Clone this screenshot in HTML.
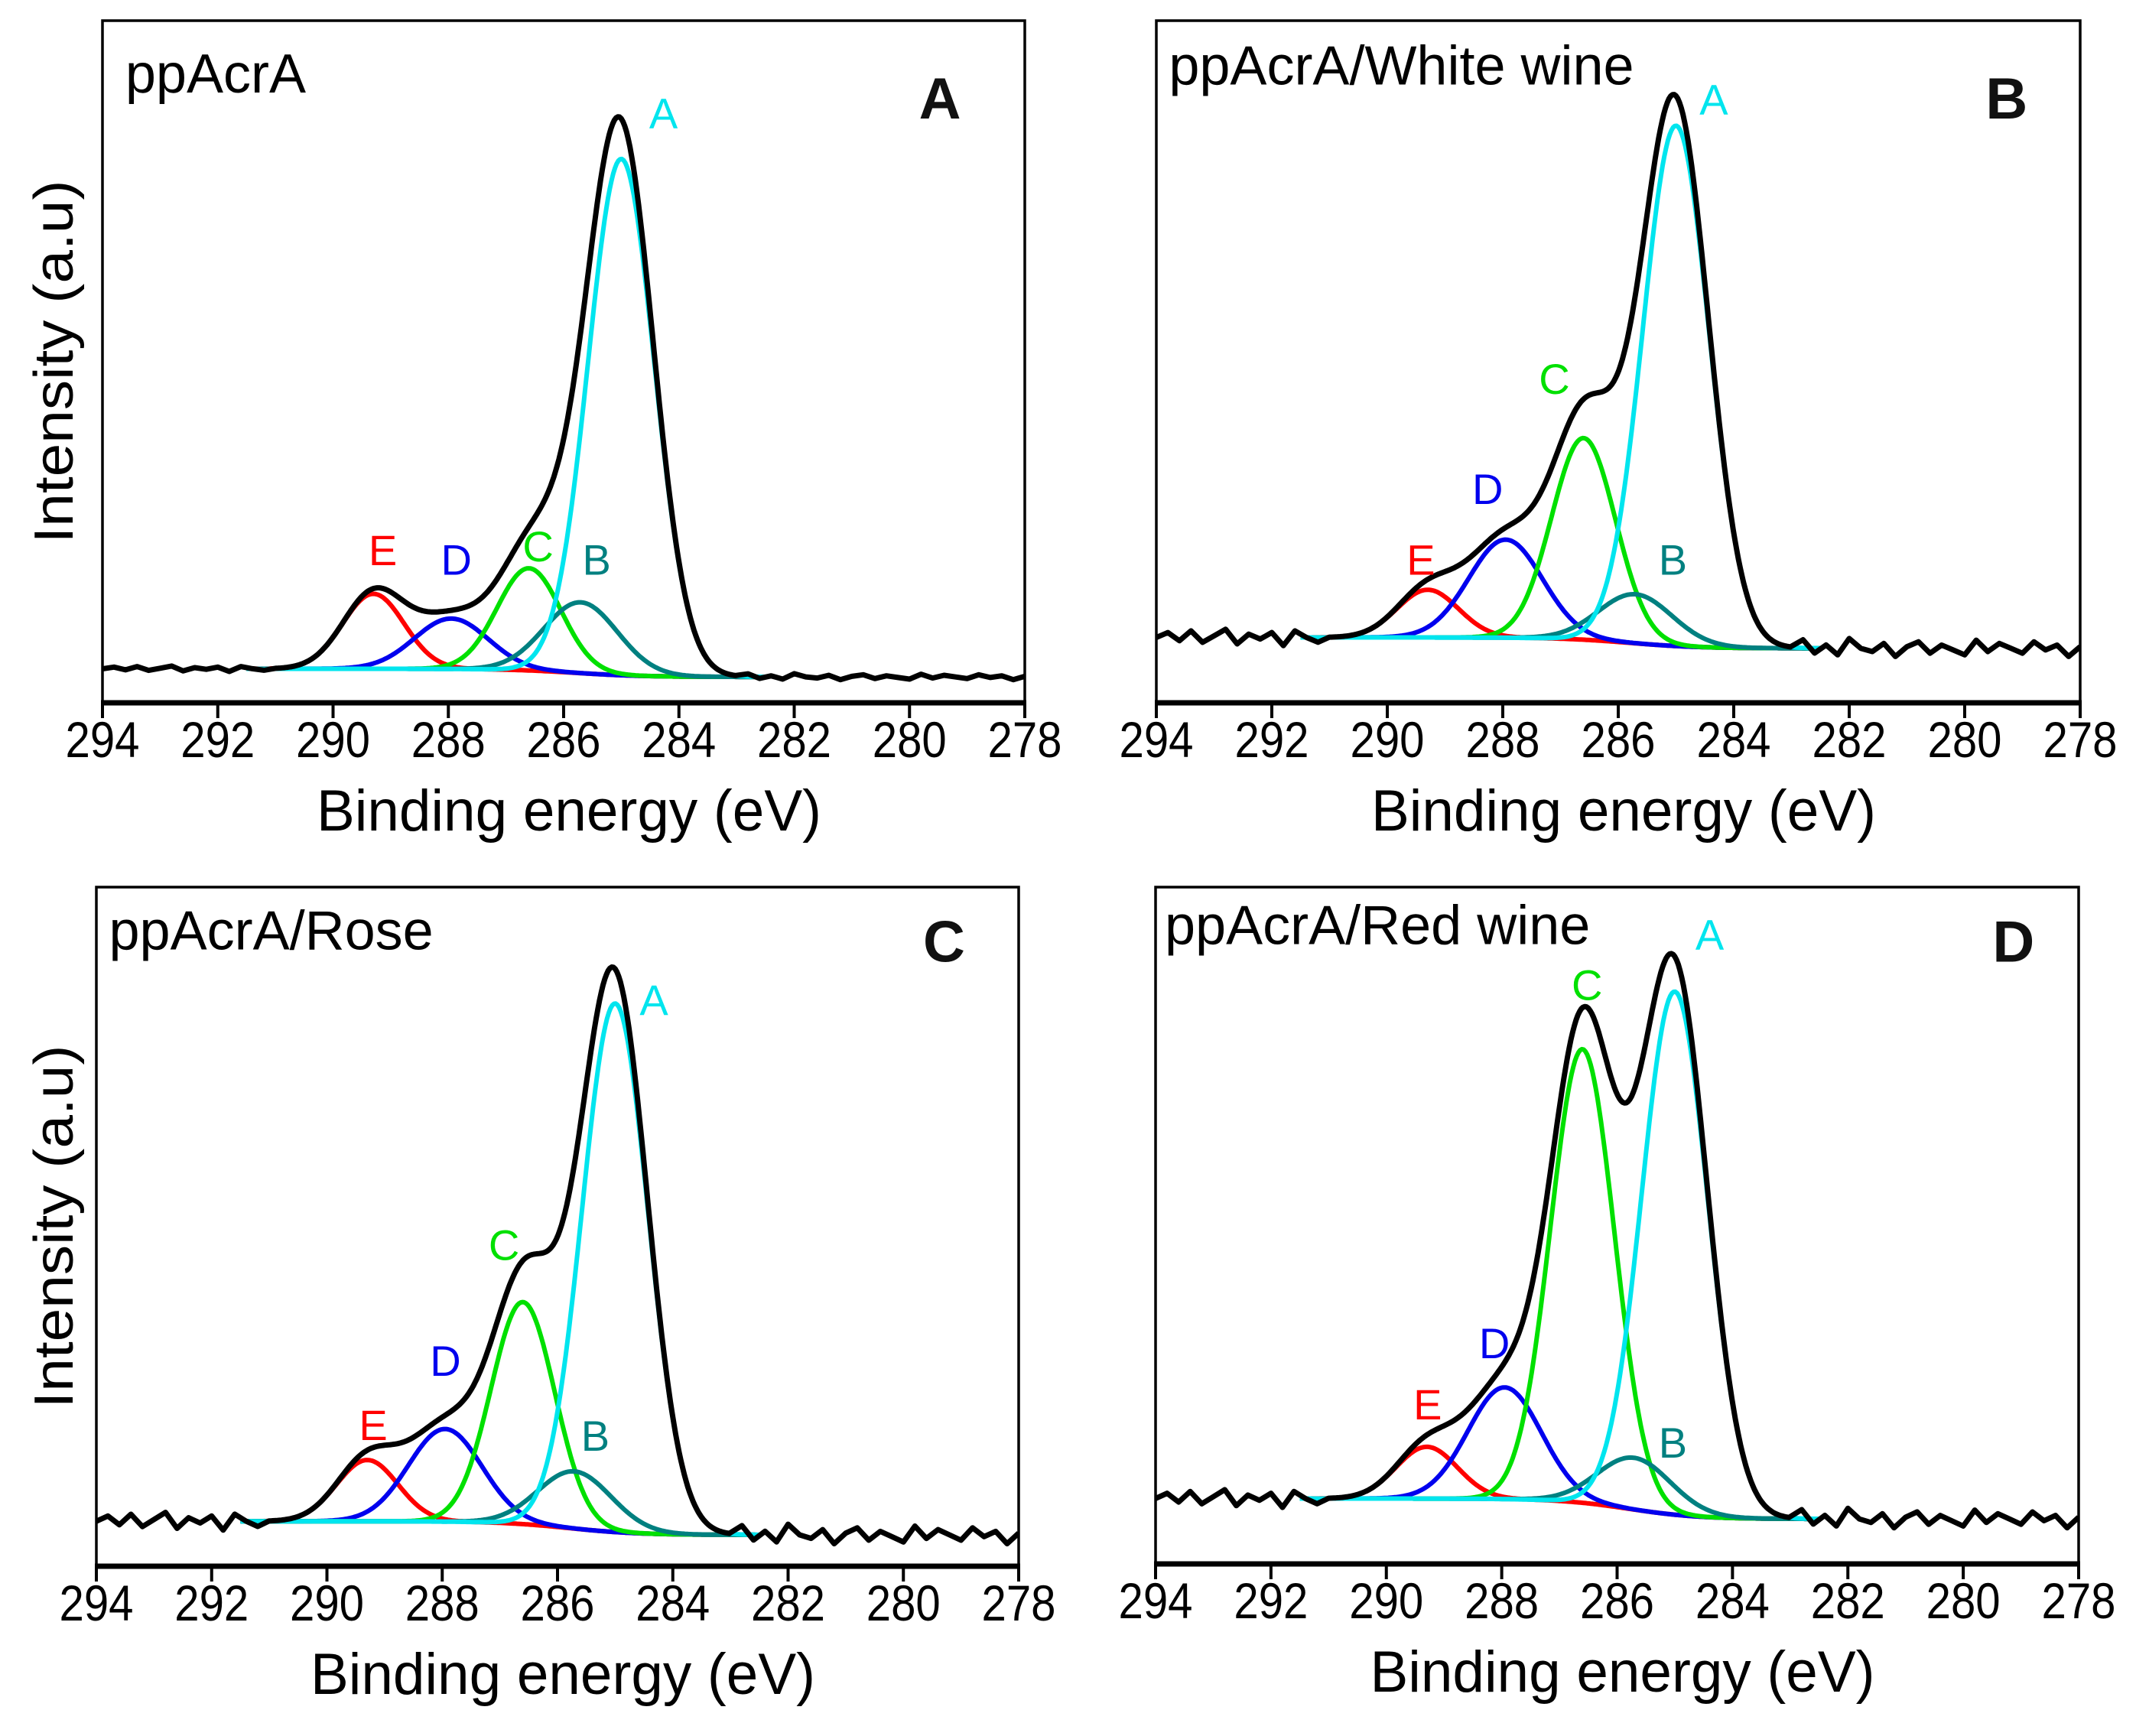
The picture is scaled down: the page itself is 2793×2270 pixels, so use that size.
<!DOCTYPE html>
<html><head><meta charset="utf-8">
<style>
html,body{margin:0;padding:0;background:#fff;}
svg{display:block;font-family:"Liberation Sans",sans-serif;}
</style></head>
<body>
<svg id="fig" width="2793" height="2270" viewBox="0 0 2793 2270" xmlns="http://www.w3.org/2000/svg"></svg>
<script>
// ---- data (intensity in arbitrary units) ----
const xTicks = [294,292,290,288,286,284,282,280,278];
const panelTitles = ["ppAcrA","ppAcrA/White wine","ppAcrA/Rose","ppAcrA/Red wine"];
const panelLetters = ["A","B","C","D"];
const compNames = ["A","B","C","D","E"];
const compCenters = [285.0,285.7,286.6,287.95,289.3];
const compFwhm = [1.35,1.5,1.3,1.5,1.25];
const heightsA = [379,52,75,37,55];
const heightsB = [382,36,148,72,35];
const heightsC = [388,42,163,68,45];
const heightsD = [384,38,333,82,38];
const bgLeft = [25,48,33,48];
const bgRight = [19,40,23,33];
const noiseAmp = [0.4,1.2,1.3,1.3];
const noise = [0,3,-2,4,-3,1,5,-4,2,-1,3,-5,4,0,-3,6,-2,1,-4,3,-1,5,-3,2,-6,4,1,-2,3,-4,0,5,-1,-3,4,-2,2,-5,3,1,-4,6,-2,0,3,-3,5,-1,-4,2,4,-5,1,3,-2,-1,5,-3,2,-4,6,0,-2,3,-5,1,4,-3,2,-1,-4,5,-2,3,0,-3,4,-1,2,-5,1];
const allHeights = [heightsA,heightsB,heightsC,heightsD];

// ---- layout ----
const S = 1.7813;
const frames = [
  {L:134,T:27,R:1340,B:919},
  {L:1512,T:27,R:2720,B:919},
  {L:126,T:1160,R:1332,B:2048},
  {L:1511,T:1160,R:2718,B:2045}
];
const compColors = ["#00e5ee","#008080","#00e000","#0000ee","#ff0000"];
const labelPos = [
  [[487,82],[438,410],[395,400],[335,410],[281,403]],
  [[1258,72],[1228,410],[1141,277],[1092,358],[1043,410]],
  [[480,733],[437,1053],[370,913],[327,998],[274,1045]],
  [[1255,685],[1228,1058],[1165,722],[1097,985],[1048,1030]]
];
const titlePos = [[92,68],[858,62],[80,697],[855,693]];
const letterPos = [[690,87],[1473,87],[693,706],[1478,706]];

const NS="http://www.w3.org/2000/svg";
const svg=document.getElementById('fig');
function mk(tag,attrs,parent){const e=document.createElementNS(NS,tag);for(const k in attrs)e.setAttribute(k,attrs[k]);(parent||svg).appendChild(e);return e;}

function gauss(x,c,h,w){const s=w/2.3548;return h*Math.exp(-0.5*((x-c)/s)**2);}

frames.forEach((f,p)=>{
  const g=mk('g',{});
  
  
  const xs=x=>f.L+(294-x)/16*(f.R-f.L);
  const ys=v=>f.B-v*S;
  const H=allHeights[p];
  const bg=x=>bgRight[p]+(bgLeft[p]-bgRight[p])/(1+Math.exp(-(x-285.8)/0.6));
  const env=x=>{let s=bg(x);for(let k=0;k<5;k++)s+=gauss(x,compCenters[k],H[k],compFwhm[k]);return s;};
  const cid='clip'+p;
  const cp=mk('clipPath',{id:cid},g);mk('rect',{x:f.L,y:f.T,width:f.R-f.L,height:f.B-f.T},cp);
  const plot=mk('g',{'clip-path':'url(#'+cid+')'},g);
  let d='';
  for(let x=291.5;x>=282.5;x-=0.05)d+=(d?'L':'M')+xs(x).toFixed(1)+' '+ys(bg(x)).toFixed(1);
  const bgl=mk('path',{d:d,fill:'none',stroke:'#ff0000','stroke-width':3},plot);
  
  
  for(let k=4;k>=0;k--){
    let dd='';
    for(let x=291.5;x>=282.5;x-=0.03)dd+=(dd?'L':'M')+xs(x).toFixed(1)+' '+ys(bg(x)+gauss(x,compCenters[k],H[k],compFwhm[k])).toFixed(1);
    const cl=mk('path',{d:dd,fill:'none',stroke:compColors[k],'stroke-width':6,'stroke-linejoin':'round'},plot);
    
    
  }
  const pts=[];
  for(let i=0;i<=80;i++){const x=294-0.2*i;if(x>291||x<283)pts.push([x,env(x)+noise[i]*noiseAmp[p]]);}
  for(let x=291;x>=283;x-=0.03)pts.push([x,env(x)]);
  pts.sort((a,b)=>b[0]-a[0]);
  let de='';pts.forEach(q=>{de+=(de?'L':'M')+xs(q[0]).toFixed(1)+' '+ys(q[1]).toFixed(1);});
  const el=mk('path',{d:de,fill:'none',stroke:'#000','stroke-width':7,'stroke-linejoin':'round'},plot);
  
  
  const fr=mk('rect',{x:f.L,y:f.T,width:f.R-f.L,height:f.B-f.T,fill:'none',stroke:'#000','stroke-width':3.5},g);
  
  
  const ax=mk('line',{x1:f.L-2,x2:f.R+2,y1:f.B,y2:f.B,stroke:'#000','stroke-width':7},g);
  
  
  xTicks.forEach(t=>{
    const tk=mk('line',{x1:xs(t),x2:xs(t),y1:f.B,y2:f.B+20,stroke:'#000','stroke-width':4},g);
    
    
    const tl=mk('text',{x:xs(t),y:f.B+71,'font-size':66,'text-anchor':'middle',textLength:97,lengthAdjust:'spacingAndGlyphs'},g);
    tl.textContent=t;
    
    
  });
  const xt=mk('text',{x:(f.L+f.R)/2+7,y:f.B+167,'font-size':76,'text-anchor':'middle',textLength:660,lengthAdjust:'spacingAndGlyphs'},g);
  xt.textContent='Binding energy (eV)';
  
  
  if(p%2===0){
    const cy=(f.T+f.B)/2;
    const yt=mk('text',{x:0,y:0,'font-size':72,'text-anchor':'middle',transform:`translate(95,${cy}) rotate(-90)`,textLength:475,lengthAdjust:'spacingAndGlyphs'},g);
    yt.textContent='Intensity (a.u)';
    
    
  }
  const tt=mk('text',{x:titlePos[p][0]*S,y:titlePos[p][1]*S,'font-size':72},g);
  tt.textContent=panelTitles[p];
  
  
  const lt=mk('text',{x:letterPos[p][0]*S,y:letterPos[p][1]*S,'font-size':76,'font-weight':'bold','text-anchor':'middle',fill:'#111'},g);
  lt.textContent=panelLetters[p];
  
  
  for(let k=0;k<5;k++){
    const cl=mk('text',{x:labelPos[p][k][0]*S,y:(labelPos[p][k][1]+12)*S,'font-size':56,'text-anchor':'middle',fill:compColors[k]},g);
    cl.textContent=compNames[k];
    
    
  }
});
</script>
</body></html>
